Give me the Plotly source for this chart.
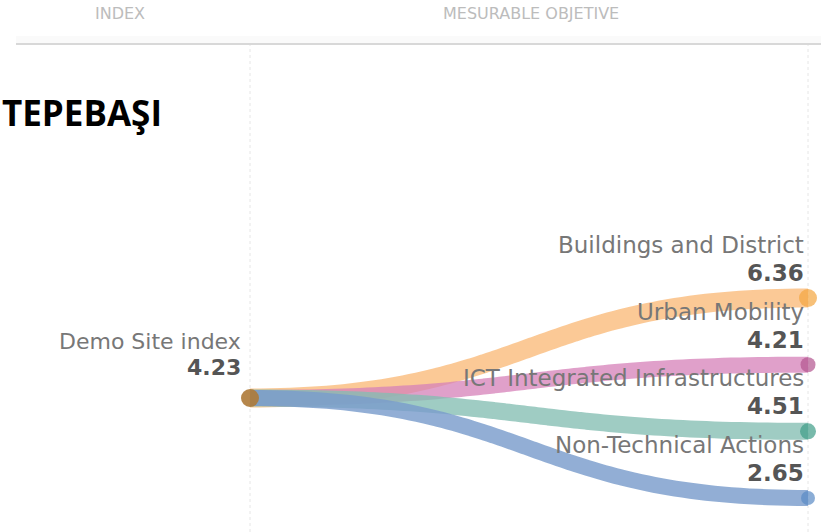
import numpy as np
import plotly.graph_objects as go

# ---- data -------------------------------------------------------------
title = "TEPEBAŞI"
source_name = "Demo Site index"
source_value = 4.23
objectives = ["Buildings and District", "Urban Mobility",
              "ICT Integrated Infrastructures", "Non-Technical Actions"]
objective_values = [6.36, 4.21, 4.51, 2.65]
header_labels = ["INDEX", "MESURABLE OBJETIVE"]

# ---- styling ----------------------------------------------------------
ribbon_colors = ["rgba(250,186,120,0.78)", "rgba(214,128,184,0.75)",
                 "rgba(132,190,178,0.78)", "rgba(122,156,204,0.82)"]
node_colors = ["#F4A53E", "#B2548E", "#3E9C88", "#5A8AC4"]
ribbon_widths = [19, 16, 17, 16]
source_color = "#AE7A38"

W, H = 821, 532
X_SRC_PX, X_TGT_PX = 250, 808          # horizontal node columns (pixels)
Y_TOP_PX, SLOT_PX = 298, 200 / 3       # first target slot & slot spacing

n = len(objectives)
slots = np.arange(n, dtype=float)
src_slot = (n - 1) / 2


def link_path(y0, y1, steps=80):
    """Horizontal cubic Bezier from (0, y0) to (1, y1), control points at mid x."""
    t = np.linspace(0, 1, steps)
    p0, p1, p2, p3 = (0.0, y0), (0.5, y0), (0.5, y1), (1.0, y1)
    x = ((1 - t) ** 3) * p0[0] + 3 * ((1 - t) ** 2) * t * p1[0] + 3 * (1 - t) * t ** 2 * p2[0] + t ** 3 * p3[0]
    y = ((1 - t) ** 3) * p0[1] + 3 * ((1 - t) ** 2) * t * p1[1] + 3 * (1 - t) * t ** 2 * p2[1] + t ** 3 * p3[1]
    return x, y


fig = go.Figure()

for i in range(n):
    x, y = link_path(src_slot, slots[i])
    fig.add_trace(go.Scatter(
        x=x, y=y, mode="lines",
        line=dict(color=ribbon_colors[i], width=ribbon_widths[i], shape="spline"),
        hoverinfo="skip", showlegend=False))

# target nodes
fig.add_trace(go.Scatter(
    x=[1] * n, y=slots, mode="markers",
    marker=dict(color=node_colors, size=[18, 15, 16, 14], line=dict(width=0)),
    hovertext=[f"{o}: {v}" for o, v in zip(objectives, objective_values)],
    hoverinfo="text", showlegend=False))

# source node
fig.add_trace(go.Scatter(
    x=[0], y=[src_slot], mode="markers",
    marker=dict(color=source_color, size=18, opacity=0.9),
    hovertext=[f"{source_name}: {source_value}"], hoverinfo="text",
    showlegend=False))

NAME_FONT = dict(family="DejaVu Sans", size=23, color="#777777")
VALUE_FONT = dict(family="DejaVu Sans", size=23, color="#555555")
SRC_NAME_FONT = dict(family="DejaVu Sans", size=22, color="#777777")
SRC_VALUE_FONT = dict(family="DejaVu Sans", size=22, color="#555555")

annotations = []
for i in range(n):
    annotations.append(dict(x=1, y=slots[i], xref="x", yref="y", text=objectives[i],
                            showarrow=False, xanchor="right", yanchor="middle",
                            xshift=-2, yshift=53, font=NAME_FONT))
    annotations.append(dict(x=1, y=slots[i], xref="x", yref="y",
                            text=f"<b>{objective_values[i]:.2f}</b>",
                            showarrow=False, xanchor="right", yanchor="middle",
                            xshift=-2, yshift=25, font=VALUE_FONT))

annotations.append(dict(x=0, y=src_slot, xref="x", yref="y", text=source_name,
                        showarrow=False, xanchor="right", yanchor="middle",
                        xshift=-7, yshift=57, font=SRC_NAME_FONT))
annotations.append(dict(x=0, y=src_slot, xref="x", yref="y",
                        text=f"<b>{source_value:.2f}</b>",
                        showarrow=False, xanchor="right", yanchor="middle",
                        xshift=-7, yshift=31, font=SRC_VALUE_FONT))

# column headers
header_x_px = [120, 531]
for lbl, xp in zip(header_labels, header_x_px):
    annotations.append(dict(x=xp / W, y=1 - 14 / H, xref="paper", yref="paper",
                            text=lbl, showarrow=False, xanchor="center", yanchor="middle",
                            font=dict(family="DejaVu Sans", size=16, color="#bcbcbc")))

# title
annotations.append(dict(x=0, y=1 - 112 / H, xref="paper", yref="paper",
                        text=f"<b>{title}</b>", showarrow=False,
                        xanchor="left", yanchor="middle",
                        font=dict(family="Open Sans", size=35, color="#000000")))

line_y = 1 - 44 / H
shapes = [
    dict(type="rect", xref="paper", yref="paper", x0=16 / W, x1=1,
         y0=line_y, y1=1 - 36 / H, fillcolor="#fafafa", line=dict(width=0), layer="below"),
    dict(type="line", xref="paper", yref="paper", x0=16 / W, x1=1,
         y0=line_y, y1=line_y, line=dict(color="#d8d8d8", width=2)),
]
for xv in (0, 1):
    shapes.append(dict(type="line", xref="x", yref="paper", x0=xv, x1=xv,
                       y0=0, y1=line_y, layer="below",
                       line=dict(color="#e6e6e6", width=1, dash="dot")))

span = X_TGT_PX - X_SRC_PX
x_range = [-X_SRC_PX / span, 1 + (W - X_TGT_PX) / span]
y_range = [(H - Y_TOP_PX) / SLOT_PX, -Y_TOP_PX / SLOT_PX]

fig.update_layout(
    width=W, height=H,
    margin=dict(l=0, r=0, t=0, b=0),
    paper_bgcolor="white", plot_bgcolor="white",
    xaxis=dict(range=x_range, visible=False, fixedrange=True),
    yaxis=dict(range=y_range, visible=False, fixedrange=True),
    annotations=annotations, shapes=shapes,
)

fig.write_html("out.html")
